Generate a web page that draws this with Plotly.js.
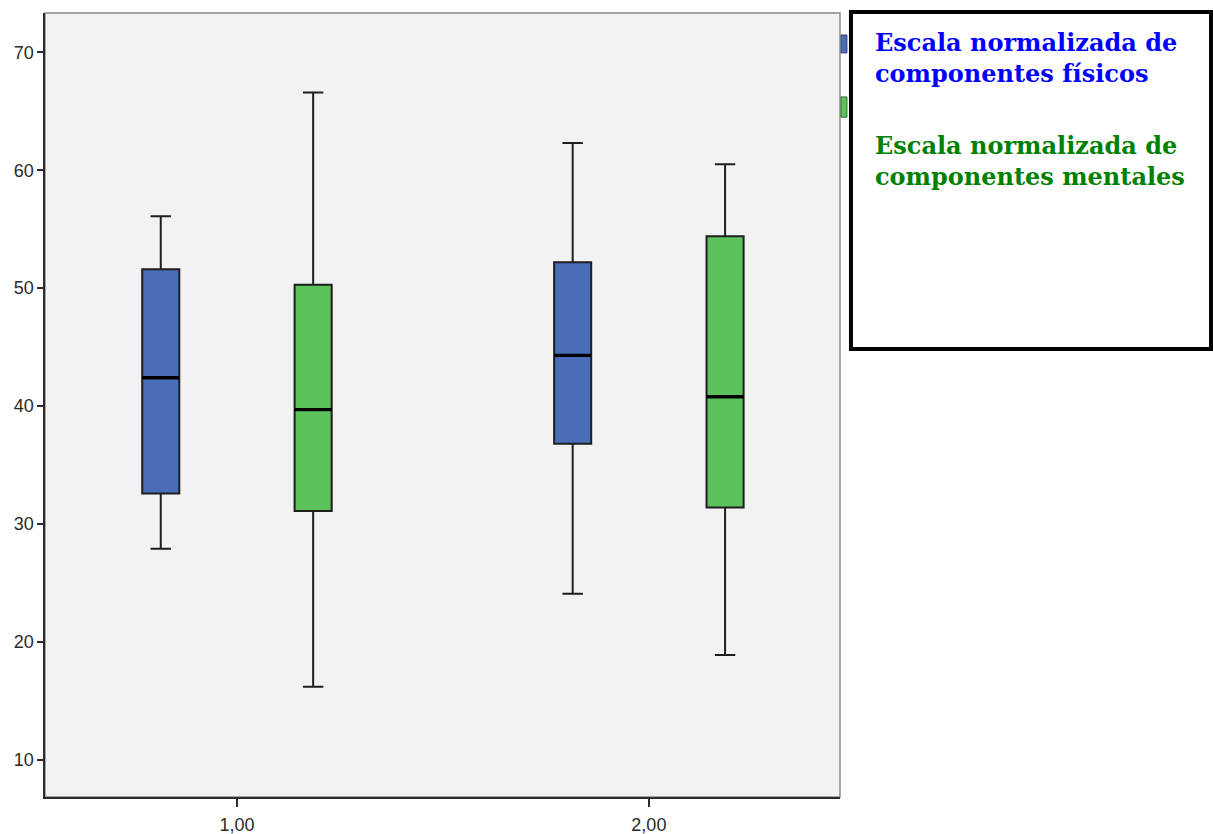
<!DOCTYPE html>
<html>
<head>
<meta charset="utf-8">
<script src="https://cdn.plot.ly/plotly-3.0.1.min.js"></script>
<style>html,body{margin:0;padding:0;background:#fff;}#chart{width:1213px;height:834px;}</style>
</head>
<body>
<div id="chart"></div>
<script>
// Categories (groups)
const categories = [1, 2];
const tickLabels = ["1,00", "2,00"];
const yTicks = [10, 20, 30, 40, 50, 60, 70];
const seriesNames = ["Escala normalizada de componentes físicos", "Escala normalizada de componentes mentales"];

// Escala normalizada de componentes físicos
const fisLower = [27.9, 24.1];
const fisQ1 = [32.6, 36.8];
const fisMedian = [42.4, 44.3];
const fisQ3 = [51.6, 52.2];
const fisUpper = [56.1, 62.3];

// Escala normalizada de componentes mentales
const menLower = [16.2, 18.9];
const menQ1 = [31.1, 31.4];
const menMedian = [39.7, 40.8];
const menQ3 = [50.3, 54.4];
const menUpper = [66.6, 60.5];

const OFFSET = 0.185, BW = 0.09;
const blueFill = "#4A6DB8", greenFill = "#5CC25C";

function boxTrace(name, off, lo, q1, med, q3, up, fill) {
  return {
    type: "box", name: name, showlegend: false,
    x: categories.map(c => c + off),
    lowerfence: lo, q1: q1, median: med, q3: q3, upperfence: up,
    width: BW, whiskerwidth: 0.55,
    fillcolor: fill, line: {color: "#1e1e1e", width: 2},
    hoverinfo: "y"
  };
}
function medTrace(off, med) {
  const xs = [], ys = [];
  categories.forEach((c, i) => {
    xs.push(c + off - BW / 2, c + off + BW / 2, null);
    ys.push(med[i], med[i], null);
  });
  return {type: "scatter", mode: "lines", x: xs, y: ys, showlegend: false,
          line: {color: "#000", width: 3.4}, hoverinfo: "skip"};
}

const data = [
  boxTrace(seriesNames[0], -OFFSET, fisLower, fisQ1, fisMedian, fisQ3, fisUpper, blueFill),
  boxTrace(seriesNames[1], OFFSET, menLower, menQ1, menMedian, menQ3, menUpper, greenFill),
  medTrace(-OFFSET, fisMedian),
  medTrace(OFFSET, menMedian)
];

const tickFont = {family: "Arial", size: 18, color: "#2b2b2b"};

const layout = {
  width: 1213, height: 834,
  margin: {l: 45, r: 373, t: 13, b: 37},
  paper_bgcolor: "#ffffff", plot_bgcolor: "#F2F2F2",
  font: {family: "Arial", size: 18, color: "#2b2b2b"},
  xaxis: {
    range: [0.534, 2.464], tickvals: categories, ticktext: tickLabels,
    showgrid: false, zeroline: false, showline: true, linecolor: "#2b2b2b", linewidth: 1.6,
    ticks: "outside", ticklen: 8, tickwidth: 1.6, tickcolor: "#2b2b2b",
    ticklabelstandoff: 3,
    tickfont: tickFont
  },
  yaxis: {
    range: [6.86, 73.33], tickvals: yTicks,
    showgrid: false, zeroline: false, showline: true, linecolor: "#2b2b2b", linewidth: 1.6,
    ticks: "outside", ticklen: 6, tickwidth: 1.8, tickcolor: "#2b2b2b",
    tickfont: tickFont
  },
  shapes: [
    {type: "rect", xref: "paper", yref: "paper", x0: 0, x1: 1, y0: 0, y1: 1,
     line: {color: "#8a8a8a", width: 1.5}, layer: "below"},
    {type: "rect", xref: "paper", yref: "paper", x0: 1.0013, x1: 1.0088, y0: 0.949, y1: 0.972,
     fillcolor: blueFill, line: {color: "#2a3a66", width: 0.8}},
    {type: "rect", xref: "paper", yref: "paper", x0: 1.0013, x1: 1.0088, y0: 0.867, y1: 0.893,
     fillcolor: greenFill, line: {color: "#2a552a", width: 0.8}},
    {type: "rect", xref: "paper", yref: "paper", x0: 1.0138, x1: 1.4667, y0: 0.5714, y1: 1.0013,
     fillcolor: "#ffffff", line: {color: "#000", width: 4}}
  ],
  annotations: [
    {xref: "paper", yref: "paper", x: 1.0415, y: 0.983, xanchor: "left", yanchor: "top",
     align: "left", showarrow: false,
     text: "Escala normalizada de<br>componentes físicos",
     font: {family: "DejaVu Serif, serif", size: 24, color: "#0000FF", weight: "bold"}},
    {xref: "paper", yref: "paper", x: 1.0415, y: 0.852, xanchor: "left", yanchor: "top",
     align: "left", showarrow: false,
     text: "Escala normalizada de<br>componentes mentales",
     font: {family: "DejaVu Serif, serif", size: 24, color: "#008000", weight: "bold"}}
  ]
};

Plotly.newPlot("chart", data, layout, {displayModeBar: false, staticPlot: true});
</script>
</body>
</html>
